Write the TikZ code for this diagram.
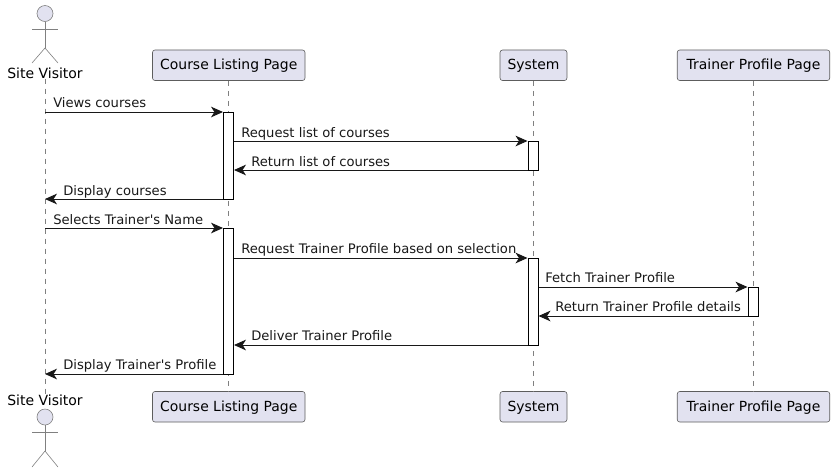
\documentclass[tikz,border=0pt]{standalone}
\usepackage{fontspec}
\setmainfont{DejaVu Sans}
\usetikzlibrary{arrows.meta}
\definecolor{boxfill}{HTML}{E2E2F0}
\definecolor{inkdark}{HTML}{181818}
\tikzset{
    participant/.style={draw=inkdark!70, line width=0.45pt, fill=boxfill, rounded corners=1.9pt, minimum height=22.9pt, inner sep=0pt, text=black, text height=8.6pt, text depth=2.2pt, font=\fontsize{10.45pt}{12pt}\selectfont},
    actorname/.style={inner sep=0pt, text=black, font=\fontsize{10.5pt}{12pt}\selectfont},
    lifeline/.style={draw=inkdark!55, line width=0.45pt, dash pattern=on 3.75pt off 3.75pt},
    bar/.style={draw=black, line width=0.75pt, fill=white, minimum width=7.5pt, inner sep=0pt},
    msg/.style={draw=inkdark, line width=0.75pt, -{Stealth[length=9pt, width=8pt, inset=2.6pt]}},
    msgtext/.style={inner sep=0pt, anchor=base west, text=inkdark, font=\fontsize{9.85pt}{12pt}\selectfont},
    stick/.style={draw=inkdark!55, line width=0.45pt},
}
\begin{document}
\begin{tikzpicture}[x=0.75pt, y=-0.75pt]
    \useasboundingbox (0, 0) rectangle (834, 472);
    % rows of the messages
    \coordinate (r1) at (0, 112);
    \coordinate (r2) at (0, 141);
    \coordinate (r3) at (0, 170);
    \coordinate (r4) at (0, 199);
    \coordinate (r5) at (0, 228);
    \coordinate (r6) at (0, 258);
    \coordinate (r7) at (0, 287);
    \coordinate (r8) at (0, 316);
    \coordinate (r9) at (0, 345);
    \coordinate (r10) at (0, 374);
    % participants
    \node[actorname] (visitorTop) at (45, 73) {Site Visitor};
    \node[actorname] (visitorBot) at (45, 400) {Site Visitor};
    \node[participant, minimum width=114.4pt] (courseTop) at (228.75, 65.25) {Course Listing Page};
    \node[participant, minimum width=114.4pt] (courseBot) at (228.75, 406.75) {Course Listing Page};
    \node[participant, minimum width=50.2pt] (systemTop) at (533.5, 65.25) {System};
    \node[participant, minimum width=50.2pt] (systemBot) at (533.5, 406.75) {System};
    \node[participant, minimum width=114.4pt] (trainerTop) at (753.5, 65.25) {Trainer Profile Page};
    \node[participant, minimum width=114.4pt] (trainerBot) at (753.5, 406.75) {Trainer Profile Page};
    % lifelines
    \draw[lifeline] (visitorTop) -- (visitorBot);
    \draw[lifeline] (courseTop) -- (courseBot);
    \draw[lifeline] (systemTop) -- (systemBot);
    \draw[lifeline] (trainerTop) -- (trainerBot);
    % actors
    \node[circle, draw=inkdark!55, line width=0.45pt, fill=boxfill, minimum size=12pt, inner sep=0pt] (headTop) at (45, 13.5) {};
    \coordinate (hipTop) at (45, 48);
    \coordinate (handTopL) at (32, 29);
    \coordinate (handTopR) at (58, 29);
    \coordinate (footTopL) at (32, 63);
    \coordinate (footTopR) at (58, 63);
    \draw[stick] (headTop) -- (hipTop);
    \draw[stick] (handTopL) -- (handTopR);
    \draw[stick] (footTopL) -- (hipTop) -- (footTopR);
    \node[circle, draw=inkdark!55, line width=0.45pt, fill=boxfill, minimum size=12pt, inner sep=0pt] (headBot) at (45, 417) {};
    \coordinate (hipBot) at (45, 451);
    \coordinate (handBotL) at (32, 432);
    \coordinate (handBotR) at (58, 432);
    \coordinate (footBotL) at (32, 467);
    \coordinate (footBotR) at (58, 467);
    \draw[stick] (headBot) -- (hipBot);
    \draw[stick] (handBotL) -- (handBotR);
    \draw[stick] (footBotL) -- (hipBot) -- (footBotR);
    % activation bars
    \node[bar, minimum height=65.25pt] (courseA) at (228.5, 155.5) {};
    \node[bar, minimum height=109.5pt] (courseB) at (228.5, 301) {};
    \node[bar, minimum height=21.75pt] (systemA) at (533, 155.5) {};
    \node[bar, minimum height=65.25pt] (systemB) at (533, 301.5) {};
    \node[bar, minimum height=21.75pt] (trainerA) at (753, 301.5) {};
    % messages
    \draw[msg] (visitorTop |- r1) -- (courseA.west |- r1);
    \draw[msg] (courseA.east |- r2) -- (systemA.west |- r2);
    \draw[msg] (systemA.west |- r3) -- (courseA.east |- r3);
    \draw[msg] (courseA.west |- r4) -- (visitorTop |- r4);
    \draw[msg] (visitorTop |- r5) -- (courseB.west |- r5);
    \draw[msg] (courseB.east |- r6) -- (systemB.west |- r6);
    \draw[msg] (systemB.east |- r7) -- (trainerA.west |- r7);
    \draw[msg] (trainerA.west |- r8) -- (systemB.east |- r8);
    \draw[msg] (systemB.west |- r9) -- (courseB.east |- r9);
    \draw[msg] (courseB.west |- r10) -- (visitorTop |- r10);
    % message labels
    \node[msgtext] (lblViews) at (53, 107.8) {Views courses};
    \node[msgtext] (lblRequest) at (241, 137) {Request list of courses};
    \node[msgtext] (lblReturn) at (251, 166) {Return list of courses};
    \node[msgtext] (lblDisplay) at (63, 195) {Display courses};
    \node[msgtext] (lblSelects) at (53, 224) {Selects Trainer\textquotesingle s Name};
    \node[msgtext] (lblBased) at (241, 253) {Request Trainer Profile based on selection};
    \node[msgtext] (lblFetch) at (545, 282) {Fetch Trainer Profile};
    \node[msgtext] (lblDetails) at (555, 311) {Return Trainer Profile details};
    \node[msgtext] (lblDeliver) at (251, 340) {Deliver Trainer Profile};
    \node[msgtext] (lblProfile) at (63, 369) {Display Trainer\textquotesingle s Profile};
\end{tikzpicture}
\end{document}
